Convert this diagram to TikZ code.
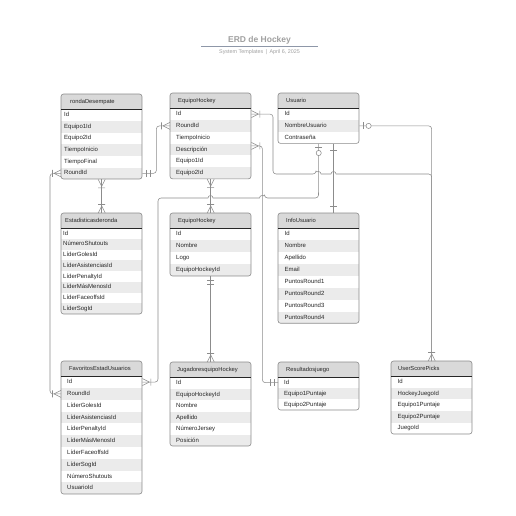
\documentclass[tikz,border=0pt]{standalone}
\usepackage{fontspec}
\setmainfont{Liberation Sans}
\usetikzlibrary{calc}
\definecolor{hdrgray}{HTML}{D9D9D9}
\definecolor{rowgray}{HTML}{EBEBEB}
\definecolor{bordergray}{HTML}{8A8A8A}
\definecolor{txtc}{HTML}{262626}
\definecolor{linec}{HTML}{8C8C8C}
\definecolor{titlec}{HTML}{A0A0A0}
\definecolor{tline}{HTML}{8E97A8}
\tikzset{
  conn/.style={draw=linec, line width=0.55pt},
  hdrbox/.style={fill=hdrgray, draw=none, inner ysep=0pt, align=left,
    minimum height=15pt, text height=4.2pt, text depth=1.2pt, font=\fontsize{5.8}{7}\selectfont, text=txtc},
  rowbox/.style={draw=none, inner ysep=0pt, align=left,
    text height=4.3pt, text depth=1.2pt, font=\fontsize{6}{7}\selectfont, text=txtc},
  tabborder/.style={draw=bordergray, line width=0.6pt},
  hdrline/.style={draw=txtc, line width=0.7pt},
  titletext/.style={font=\fontsize{8.5}{10}\selectfont\bfseries, text=titlec, inner sep=0pt},
  subtext/.style={font=\fontsize{5.4}{6}\selectfont, text=titlec, inner sep=0pt},
}
% name, x, ytop, row height, nrows, header, rows, row indent, header indent
\newcommand{\erdtab}[9]{%
  \pgfmathsetmacro{\tbot}{#3+15+#5*#4}
  \pgfmathsetmacro{\rtw}{81-2*#8}
  \pgfmathsetmacro{\htw}{81-2*#9}
  \begin{scope}
    \clip[rounded corners=2.5pt] (#2,-#3) rectangle ({#2+81},-\tbot);
    \node[hdrbox, inner xsep=#9pt, text width=\htw pt, anchor=north west] (#1-h) at (#2,-#3) {#6};
    \foreach \rtext [count=\ri] in {#7} {
      \pgfmathsetmacro{\ry}{#3+15+(\ri-1)*#4}
      \ifodd\ri \def\rfill{white}\else\def\rfill{rowgray}\fi
      \node[rowbox, inner xsep=#8pt, text width=\rtw pt, fill=\rfill, minimum height=#4pt, anchor=north west] (#1-\ri) at (#2,-\ry) {\rtext};
    }
  \end{scope}
  \draw[tabborder, rounded corners=2.5pt] (#2,-#3) rectangle ({#2+81},-\tbot);
  \draw[hdrline] (#1-h.south west) -- (#1-h.south east);
}
\newcommand{\mcrow}[2]{\begin{scope}[shift={#1},rotate=#2]\draw[conn] (7,0) -- (0,3.5) (7,0) -- (0,-3.5) (8.5,3.5) -- (8.5,-3.5);\end{scope}}
\newcommand{\mtwo}[2]{\begin{scope}[shift={#1},rotate=#2]\draw[conn] (4,3.5) -- (4,-3.5) (7.5,3.5) -- (7.5,-3.5);\end{scope}}
\newcommand{\mone}[2]{\begin{scope}[shift={#1},rotate=#2]\draw[conn] (6.5,3.5) -- (6.5,-3.5);\end{scope}}
\newcommand{\mzone}[2]{\begin{scope}[shift={#1},rotate=#2]\draw[conn] (3.5,3.5) -- (3.5,-3.5);\draw[conn, fill=white] (9.2,0) circle (2.6);\end{scope}}
\begin{document}
\begin{tikzpicture}[x=1pt,y=1pt]
\useasboundingbox (0,0) rectangle (516,-516);
% title
\node[titletext] (title) at (259.5,-40) {ERD de Hockey};
\draw[tline, line width=0.6pt] (201,-46) -- (318,-46);
\node[subtext] (sub) at (259.5,-52) {System Templates \,|\, April 6, 2025};
% tables
\erdtab{t1}{61}{94}{11.67}{6}{rondaDesempate}{Id,Equipo1Id,Equipo2Id,TiempoInicio,TiempoFinal,RoundId}{3}{9}
\erdtab{t2}{170}{93}{11.8}{6}{EquipoHockey}{Id,RoundId,TiempoInicio,Descripción,Equipo1Id,Equipo2Id}{6}{8}
\erdtab{t3}{278}{93}{11.8}{3}{Usuario}{Id,NombreUsuario,Contraseña}{6.5}{8}
\erdtab{t4}{61}{213}{10.75}{8}{Estadisticasderonda}{Id,NúmeroShutouts,LíderGolesId,LíderAsistenciasId,LíderPenaltyId,LíderMásMenosId,LíderFaceoffsId,LíderSogId}{2}{4}
\erdtab{t5}{170}{213}{12}{4}{EquipoHockey}{Id,Nombre,Logo,EquipoHockeyId}{6}{8}
\erdtab{t6}{278}{213}{11.9}{8}{InfoUsuario}{Id,Nombre,Apellido,Email,PuntosRound1,PuntosRound2,PuntosRound3,PuntosRound4}{6.5}{8}
\erdtab{t7}{61}{361}{11.8}{10}{FavoritosEstadUsuarios}{Id,RoundId,LíderGolesId,LíderAsistenciasId,LíderPenaltyId,LíderMásMenosId,LíderFaceoffsId,LíderSogId,NúmeroShutouts,UsuarioId}{6}{8}
\erdtab{t8}{170}{362}{11.5}{6}{JugadoresquipoHockey}{Id,EquipoHockeyId,Nombre,Apellido,NúmeroJersey,Posición}{6}{7}
\erdtab{t9}{278}{362}{11}{3}{Resultadosjuego}{Id,Equipo1Puntaje,Equipo2Puntaje}{6}{8}
\erdtab{t10}{391}{361}{11.6}{5}{UserScorePicks}{Id,HockeyJuegoId,Equipo1Puntaje,Equipo2Puntaje,JuegoId}{6.5}{7}
% helper coordinates
\coordinate (c7s) at ($(t2-4.north east)+(0,-2.5)$);
\coordinate (u1) at ($(t3-3.south)+(15,0)$);
\coordinate (u2) at (u1 |- t6-h.north);
% connectors
\draw[conn, rounded corners=3] (t1-6.east) -- ++(14,0) |- (t2-2.west);
\draw[conn] (t1-6.south) -- (t4-h.north);
\draw[conn] (t2-6.south) -- (t5-h.north);
\draw[conn] (t5-4.south) -- (t8-h.north);
\draw[conn] (t2-1.east) [rounded corners=3] -| (273,-174) -- (316,-174) [sharp corners]
  arc[start angle=180,end angle=0,radius=2.5] -- (331,-174)
  arc[start angle=180,end angle=0,radius=2.5] -- (345,-174) [rounded corners=3] -| (t10-h.north);
\draw[conn, rounded corners=3] (t3-2.east) -| (t10-h.north);
\draw[conn, rounded corners=3] (c7s) -- ++(11,0) |- (t9-1.west);
\draw[conn] (t3-3.south) [rounded corners=3] -- (318.5,-198) -- (264.5,-198) [sharp corners]
  arc[start angle=0,end angle=180,radius=2.5] -- (213,-198)
  arc[start angle=0,end angle=180,radius=2.5] -- (200,-198) [rounded corners=3] -- (158,-198) |- (t7-1.east);
\draw[conn, rounded corners=3] (t1-6.west) -- ++(-11,0) |- (t7-2.west);
\draw[conn] (u1) -- (u2);
% markers
\mtwo{(t1-6.east)}{0}
\mcrow{(t2-2.west)}{180}
\mcrow{(t1-6.south)}{270}
\mcrow{(t4-h.north)}{90}
\mcrow{(t2-6.south)}{270}
\mcrow{(t5-h.north)}{90}
\mtwo{(t5-4.south)}{270}
\mcrow{(t8-h.north)}{90}
\mcrow{(t2-1.east)}{0}
\mcrow{(t10-h.north)}{90}
\mzone{(t3-2.east)}{0}
\mcrow{(c7s)}{0}
\mtwo{(t9-1.west)}{180}
\mzone{(t3-3.south)}{270}
\mcrow{(t7-1.east)}{0}
\mcrow{(t1-6.west)}{180}
\mcrow{(t7-2.west)}{180}
\mone{(u1)}{270}
\mone{(u2)}{90}
\end{tikzpicture}
\end{document}
